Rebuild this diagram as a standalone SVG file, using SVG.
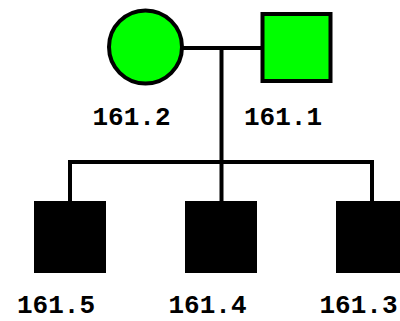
<svg xmlns="http://www.w3.org/2000/svg" width="400" height="321" viewBox="0 0 400 321">
<style>
.lbl{font-family:"Liberation Mono","Courier New",monospace;font-weight:bold;font-size:26px;text-anchor:middle;fill:#000}
.aff{fill:#00ff00;stroke:#000;stroke-width:4}
.blk{fill:#000}
.ln{stroke:#000;stroke-width:4;fill:none}
</style>
<rect width="400" height="321" fill="#fff"/>
<g id="connectors">
<line class="ln" x1="182" y1="48" x2="263" y2="48"/>
<line class="ln" x1="221.5" y1="48" x2="221.5" y2="162"/>
<polyline class="ln" points="70,201 70,162 372,162 372,201"/>
<line class="ln" x1="221.5" y1="162" x2="221.5" y2="201"/>
</g>
<g id="n161_2">
<circle class="aff" cx="145.5" cy="47" r="36.5"/>
<text class="lbl" x="131.5" y="125">161.2</text>
</g>
<g id="n161_1">
<rect class="aff" x="262.5" y="14" width="68" height="67"/>
<text class="lbl" x="283" y="125">161.1</text>
</g>
<g id="n161_5">
<rect class="blk" x="34" y="201" width="72" height="72"/>
<text class="lbl" x="56" y="313">161.5</text>
</g>
<g id="n161_4">
<rect class="blk" x="185" y="201" width="72" height="72"/>
<text class="lbl" x="207.5" y="313">161.4</text>
</g>
<g id="n161_3">
<rect class="blk" x="336" y="201" width="72" height="72"/>
<text class="lbl" x="358.5" y="313">161.3</text>
</g>
</svg>
